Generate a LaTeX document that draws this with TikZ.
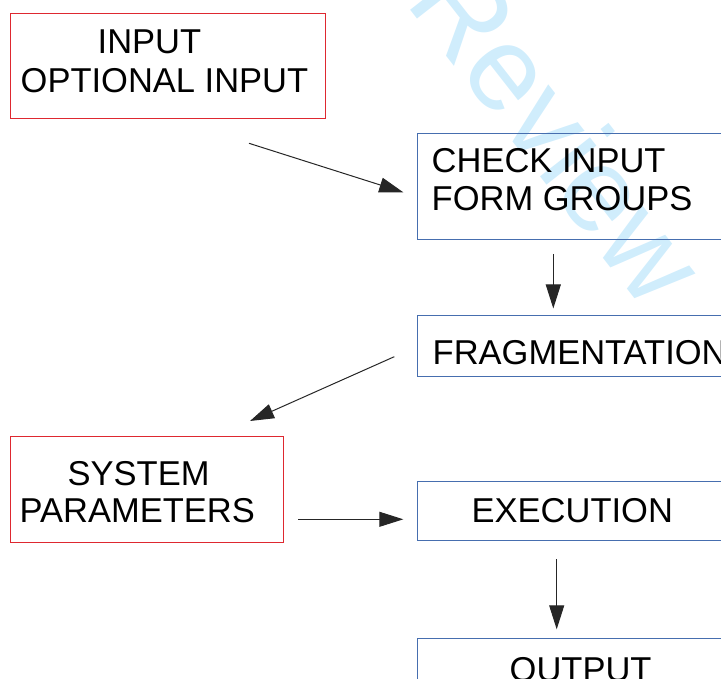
\documentclass[tikz,border=0pt]{standalone}
\usepackage{fontspec}
\setmainfont{Liberation Sans}
\usetikzlibrary{arrows.meta}

\definecolor{boxred}{RGB}{222,40,48}
\definecolor{boxblue}{RGB}{70,110,175}
\definecolor{markblue}{RGB}{208,237,252}

\tikzset{
  redbox/.style={draw=boxred, line width=1pt, rectangle, anchor=north west, inner sep=0pt},
  bluebox/.style={draw=boxblue, line width=1pt, rectangle, anchor=north west, inner sep=0pt},
  label/.style={anchor=base west, inner sep=0pt, font=\fontsize{34.5}{38}\selectfont},
  flow/.style={draw=black!85, line width=1pt, -{Triangle[length=24pt, width=15pt]}},
}

\begin{document}
\begin{tikzpicture}[x=1pt, y=-1pt]
  \useasboundingbox (0,0) rectangle (721,679);
  \clip (0,0) rectangle (721,679);

  % watermark
  \node[text=markblue, font=\fontsize{120}{126}\selectfont, rotate=-52, inner sep=0pt]
    (mark) at (559,131) {Review};

  % boxes
  \node[redbox, minimum width=315pt, minimum height=105pt] (input) at (10,13) {};
  \node[bluebox, minimum width=330pt, minimum height=106pt] (check) at (417,133) {};
  \node[bluebox, minimum width=330pt, minimum height=61pt] (frag) at (417,315) {};
  \node[redbox, minimum width=273pt, minimum height=106pt] (sys) at (10,436) {};
  \node[bluebox, minimum width=330pt, minimum height=59pt] (exec) at (417,481) {};
  \node[bluebox, minimum width=330pt, minimum height=80pt] (out) at (417,638) {};

  % labels
  \node[label] (t1) at (97.5,54) {INPUT};
  \node[label] (t2) at (20.5,92.5) {OPTIONAL INPUT};
  \node[label] (t3) at (431.5,172.5) {CHECK INPUT};
  \node[label] (t4) at (431.5,211) {FORM GROUPS};
  \node[label] (t5) at (432.5,364.5) {FRAGMENTATION};
  \node[label] (t6) at (67.5,485) {SYSTEM};
  \node[label] (t7) at (19.5,522.5) {PARAMETERS};
  \node[label] (t8) at (471.5,522.5) {EXECUTION};
  \node[label] (t9) at (509.5,681) {OUTPUT};

  % connector ends
  \coordinate (a1s) at (249,143.3);
  \coordinate (a1e) at (403.3,192.3);
  \coordinate (a2s) at (553.3,254);
  \coordinate (a2e) at (553.3,308.5);
  \coordinate (a3s) at (394.3,356.7);
  \coordinate (a3e) at (250,421);
  \coordinate (a4s) at (298.3,519.3);
  \coordinate (a4e) at (403.3,519.3);
  \coordinate (a5s) at (556.7,559);
  \coordinate (a5e) at (556.7,629.3);

  % connectors
  \draw[flow] (a1s) -- (a1e);
  \draw[flow] (a2s) -- (a2e);
  \draw[flow] (a3s) -- (a3e);
  \draw[flow] (a4s) -- (a4e);
  \draw[flow] (a5s) -- (a5e);
\end{tikzpicture}
\end{document}
